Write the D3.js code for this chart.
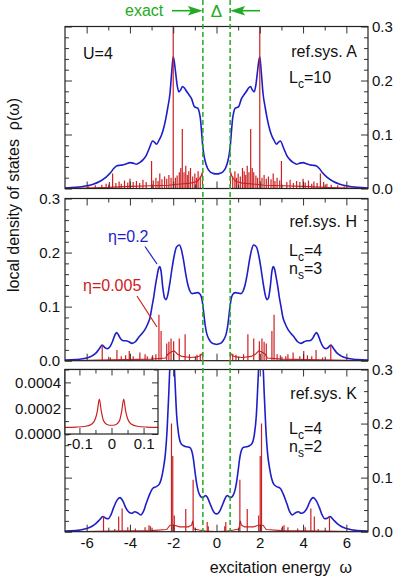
<!DOCTYPE html>
<html>
<head>
<meta charset="utf-8">
<script src="https://cdnjs.cloudflare.com/ajax/libs/d3/7.8.5/d3.min.js"></script>
<style>
  body { margin: 0; background: #fff; }
  text { font-family: "Liberation Sans", Arial, Helvetica, sans-serif; }
</style>
</head>
<body>
<svg id="chart"></svg>
<script>
// ---- data ----
// blue curves: eta = 0.2, [omega, rho]
var blueA = [[-7,0.001],[-6.5,0.002],[-6,0.005],[-5.7,0.008],[-5.4,0.013],[-5.1,0.021],[-4.9,0.029],[-4.75,0.037],[-4.6,0.042],[-4.45,0.043],[-4.3,0.044],[-4.15,0.046],[-4.0,0.048],[-3.85,0.047],[-3.7,0.045],[-3.55,0.048],[-3.4,0.053],[-3.25,0.061],[-3.1,0.075],[-2.95,0.088],[-2.85,0.085],[-2.77,0.082],[-2.65,0.09],[-2.54,0.099],[-2.44,0.112],[-2.34,0.13],[-2.25,0.15],[-2.15,0.176],[-2.07,0.215],[-2.0,0.244],[-1.95,0.235],[-1.89,0.215],[-1.82,0.192],[-1.74,0.179],[-1.65,0.183],[-1.57,0.189],[-1.48,0.186],[-1.4,0.181],[-1.28,0.174],[-1.15,0.166],[-1.03,0.152],[-0.95,0.15],[-0.87,0.149],[-0.8,0.142],[-0.74,0.128],[-0.69,0.105],[-0.64,0.08],[-0.58,0.062],[-0.52,0.05],[-0.42,0.038],[-0.3,0.031],[-0.15,0.028],[0,0.027],
  [0.15,0.028],[0.3,0.031],[0.42,0.038],[0.52,0.05],[0.58,0.062],[0.64,0.08],[0.69,0.105],[0.74,0.128],[0.8,0.142],[0.87,0.149],[0.95,0.15],[1.03,0.152],[1.15,0.166],[1.28,0.174],[1.4,0.181],[1.48,0.186],[1.57,0.189],[1.65,0.183],[1.74,0.179],[1.82,0.192],[1.89,0.215],[1.95,0.235],[2.0,0.244],[2.07,0.215],[2.15,0.176],[2.25,0.15],[2.34,0.13],[2.44,0.112],[2.54,0.099],[2.65,0.09],[2.77,0.082],[2.85,0.085],[2.95,0.088],[3.1,0.075],[3.25,0.061],[3.4,0.053],[3.55,0.048],[3.7,0.045],[3.85,0.047],[4.0,0.048],[4.15,0.046],[4.3,0.044],[4.45,0.043],[4.6,0.042],[4.75,0.037],[4.9,0.029],[5.1,0.021],[5.4,0.013],[5.7,0.008],[6,0.005],[6.5,0.002],[7,0.001]];

var blueH = [[-7,0.001],[-6.5,0.002],[-6,0.005],[-5.75,0.009],[-5.55,0.015],[-5.4,0.023],[-5.28,0.029],[-5.15,0.024],[-5.05,0.022],[-4.92,0.026],[-4.8,0.036],[-4.7,0.047],[-4.62,0.052],[-4.52,0.047],[-4.42,0.04],[-4.3,0.037],[-4.18,0.037],[-4.05,0.035],[-3.9,0.032],[-3.75,0.035],[-3.6,0.043],[-3.45,0.05],[-3.3,0.058],[-3.18,0.068],[-3.07,0.08],[-2.98,0.1],[-2.9,0.118],[-2.82,0.14],[-2.74,0.158],[-2.68,0.17],[-2.62,0.174],[-2.56,0.165],[-2.48,0.135],[-2.4,0.116],[-2.33,0.113],[-2.25,0.122],[-2.15,0.145],[-2.05,0.172],[-1.95,0.195],[-1.85,0.21],[-1.72,0.214],[-1.62,0.205],[-1.52,0.185],[-1.42,0.16],[-1.32,0.14],[-1.22,0.128],[-1.12,0.124],[-1.0,0.125],[-0.88,0.126],[-0.78,0.124],[-0.7,0.118],[-0.64,0.105],[-0.58,0.085],[-0.52,0.065],[-0.45,0.05],[-0.35,0.04],[-0.22,0.033],[-0.1,0.031],[0,0.03],
  [0.1,0.031],[0.22,0.033],[0.35,0.04],[0.45,0.05],[0.52,0.065],[0.58,0.085],[0.64,0.105],[0.7,0.118],[0.78,0.124],[0.88,0.126],[1.0,0.125],[1.12,0.124],[1.22,0.128],[1.32,0.14],[1.42,0.16],[1.52,0.185],[1.62,0.205],[1.72,0.214],[1.85,0.21],[1.95,0.195],[2.05,0.172],[2.15,0.145],[2.25,0.122],[2.33,0.113],[2.4,0.116],[2.48,0.135],[2.56,0.165],[2.62,0.174],[2.68,0.17],[2.74,0.158],[2.82,0.14],[2.9,0.118],[2.98,0.1],[3.07,0.08],[3.18,0.068],[3.3,0.058],[3.45,0.05],[3.6,0.043],[3.75,0.035],[3.9,0.032],[4.05,0.035],[4.18,0.037],[4.3,0.037],[4.42,0.04],[4.52,0.047],[4.62,0.052],[4.7,0.047],[4.8,0.036],[4.92,0.026],[5.05,0.022],[5.15,0.024],[5.28,0.029],[5.4,0.023],[5.55,0.015],[5.75,0.009],[6,0.005],[6.5,0.002],[7,0.001]];

var blueK = [[-7,0.001],[-6.5,0.002],[-6,0.006],[-5.75,0.01],[-5.55,0.016],[-5.4,0.022],[-5.25,0.028],[-5.12,0.025],[-5.0,0.024],[-4.88,0.031],[-4.75,0.045],[-4.6,0.058],[-4.46,0.063],[-4.33,0.057],[-4.2,0.045],[-4.05,0.036],[-3.92,0.034],[-3.78,0.037],[-3.65,0.035],[-3.5,0.031],[-3.38,0.037],[-3.25,0.052],[-3.1,0.068],[-2.95,0.08],[-2.8,0.083],[-2.66,0.087],[-2.55,0.098],[-2.45,0.118],[-2.36,0.145],[-2.28,0.19],[-2.2,0.26],[-2.13,0.33],[-2.06,0.37],[-1.99,0.34],[-1.92,0.28],[-1.84,0.215],[-1.75,0.18],[-1.65,0.164],[-1.52,0.159],[-1.38,0.157],[-1.25,0.156],[-1.15,0.15],[-1.07,0.135],[-1.0,0.113],[-0.92,0.09],[-0.85,0.076],[-0.75,0.066],[-0.65,0.063],[-0.57,0.065],[-0.5,0.067],[-0.43,0.064],[-0.35,0.057],[-0.25,0.047],[-0.15,0.038],[-0.07,0.034],[0,0.033],
  [0.07,0.034],[0.15,0.038],[0.25,0.047],[0.35,0.057],[0.43,0.064],[0.5,0.067],[0.57,0.065],[0.65,0.063],[0.75,0.066],[0.85,0.076],[0.92,0.09],[1.0,0.113],[1.07,0.135],[1.15,0.15],[1.25,0.156],[1.38,0.157],[1.52,0.159],[1.65,0.164],[1.75,0.18],[1.84,0.215],[1.92,0.28],[1.99,0.34],[2.06,0.37],[2.13,0.33],[2.2,0.26],[2.28,0.19],[2.36,0.145],[2.45,0.118],[2.55,0.098],[2.66,0.087],[2.8,0.083],[2.95,0.08],[3.1,0.068],[3.25,0.052],[3.38,0.037],[3.5,0.031],[3.65,0.035],[3.78,0.037],[3.92,0.034],[4.05,0.036],[4.2,0.045],[4.33,0.057],[4.46,0.063],[4.6,0.058],[4.75,0.045],[4.88,0.031],[5.0,0.024],[5.12,0.025],[5.25,0.028],[5.4,0.022],[5.55,0.016],[5.75,0.01],[6,0.006],[6.5,0.002],[7,0.001]];

// red curves: eta = 0.005, smooth background part [omega, rho]
var baseA = [[-7,0],[-6,0.001],[-5,0.002],[-4,0.004],[-3,0.005],[-2.2,0.006],[-1.8,0.008],[-1.2,0.01],[-0.9,0.013],[-0.78,0.018],[-0.7,0.024],[-0.66,0.03],[-0.64,0],[0.64,0],[0.66,0.03],[0.7,0.024],[0.78,0.018],[0.9,0.013],[1.2,0.01],[1.8,0.008],[2.2,0.006],[3,0.005],[4,0.004],[5,0.002],[6,0.001],[7,0]];
var baseH = [[-7,0],[-5.5,0.001],[-3,0.003],[-2.35,0.005],[-2.25,0.012],[-2.1,0.016],[-1.95,0.018],[-1.8,0.012],[-1.6,0.008],[-1.2,0.006],[-0.9,0.007],[-0.75,0.009],[-0.67,0.012],[-0.64,0.016],[-0.63,0],[0.63,0],[0.64,0.016],[0.67,0.012],[0.75,0.009],[0.9,0.007],[1.2,0.006],[1.6,0.008],[1.8,0.012],[1.95,0.018],[2.1,0.016],[2.25,0.012],[2.35,0.005],[3,0.003],[5.5,0.001],[7,0]];
var baseK = [[-7,0],[-5,0.001],[-3,0.002],[-2.3,0.004],[-2.15,0.012],[-1.95,0.012],[-1.7,0.009],[-1.3,0.009],[-1.15,0.012],[-1.1,0.02],[-1.04,0.005],[-0.8,0.003],[-0.5,0.001],[0,0.0005],[0.5,0.001],[0.8,0.003],[1.04,0.005],[1.1,0.02],[1.15,0.012],[1.3,0.009],[1.7,0.009],[1.95,0.012],[2.15,0.012],[2.3,0.004],[3,0.002],[5,0.001],[7,0]];

// red curves: sharp peaks [omega, height]
var spikesA = [[-5.9,0.004],[-5.6,0.006],[-5.3,0.007],[-5.1,0.009],[-4.95,0.012],[-4.8,0.028],[-4.65,0.01],[-4.5,0.013],[-4.4,0.009],[-4.25,0.015],[-4.1,0.011],[-4.0,0.018],[-3.85,0.012],[-3.7,0.014],[-3.55,0.01],[-3.4,0.016],[-3.25,0.012],[-3.0,0.051],[-2.92,0.015],[-2.8,0.02],[-2.7,0.014],[-2.62,0.028],[-2.52,0.017],[-2.4,0.022],[-2.3,0.018],[-2.2,0.025],[-2.1,0.02],[-2.0,0.35],[-1.9,0.02],[-1.82,0.024],[-1.72,0.03],[-1.65,0.038],[-1.58,0.11],[-1.5,0.03],[-1.42,0.042],[-1.35,0.025],[-1.28,0.032],[-1.2,0.038],[-1.1,0.022],[-1.0,0.028],[-0.92,0.02],[-0.85,0.032],[-0.75,0.022],
  [0.75,0.022],[0.85,0.032],[0.92,0.02],[1.0,0.028],[1.1,0.022],[1.2,0.038],[1.28,0.032],[1.35,0.025],[1.42,0.042],[1.5,0.03],[1.58,0.11],[1.65,0.038],[1.72,0.03],[1.82,0.024],[1.9,0.02],[2.0,0.35],[2.1,0.02],[2.2,0.025],[2.3,0.018],[2.4,0.022],[2.52,0.017],[2.62,0.028],[2.7,0.014],[2.8,0.02],[2.92,0.015],[3.0,0.051],[3.25,0.012],[3.4,0.016],[3.55,0.01],[3.7,0.014],[3.85,0.012],[4.0,0.018],[4.1,0.011],[4.25,0.015],[4.4,0.009],[4.5,0.013],[4.65,0.01],[4.8,0.028],[4.95,0.012],[5.1,0.009],[5.3,0.007],[5.6,0.006],[5.9,0.004]];
var spikesH = [[-5.28,0.029],[-4.9,0.006],[-4.6,0.02],[-4.4,0.008],[-4.2,0.01],[-4.03,0.018],[-3.85,0.008],[-3.54,0.015],[-3.3,0.012],[-3.2,0.008],[-2.95,0.01],[-2.8,0.012],[-2.66,0.085],[-2.56,0.055],[-2.3,0.032],[-2.2,0.035],[-2.1,0.041],[-1.98,0.036],[-1.72,0.041],[-1.45,0.049],[-1.25,0.012],[-0.9,0.011],[-0.75,0.013],
  [0.75,0.013],[0.9,0.011],[1.25,0.012],[1.45,0.049],[1.72,0.041],[1.98,0.036],[2.1,0.041],[2.2,0.035],[2.3,0.032],[2.56,0.055],[2.66,0.085],[2.8,0.012],[2.95,0.01],[3.2,0.008],[3.3,0.012],[3.54,0.015],[3.85,0.008],[4.03,0.018],[4.2,0.01],[4.4,0.008],[4.6,0.02],[4.9,0.006],[5.28,0.029]];
var spikesK = [[-5.22,0.028],[-4.7,0.005],[-4.52,0.028],[-4.36,0.043],[-4.1,0.008],[-3.75,0.006],[-3.3,0.008],[-3.12,0.012],[-3.05,0.01],[-2.08,0.2],[-2.02,0.14],[-1.95,0.03],[-1.42,0.042],[-1.08,0.096],[-0.43,0.018],[-0.38,0.01],
  [0.38,0.01],[0.43,0.018],[1.08,0.096],[1.42,0.042],[1.95,0.03],[2.02,0.14],[2.08,0.2],[3.05,0.01],[3.12,0.012],[3.3,0.008],[3.75,0.006],[4.1,0.008],[4.36,0.043],[4.52,0.028],[4.7,0.005],[5.22,0.028]];

// inset (ref.sys. K, eta = 0.005 around omega = 0)
var insetK = [[-0.145,0.000052],[-0.11,0.000054],[-0.08,0.00006],[-0.06,0.00008],[-0.05,0.00012],[-0.044,0.00018],[-0.038,0.00027],[-0.032,0.00018],[-0.026,0.00011],[-0.018,0.00008],[-0.01,0.00007],[0,0.000068],[0.01,0.00007],[0.018,0.00008],[0.026,0.00011],[0.032,0.00018],[0.038,0.00027],[0.044,0.00018],[0.05,0.00012],[0.06,0.00008],[0.08,0.00006],[0.11,0.000054],[0.145,0.000052]];

// ticks
var xMajor = [-6, -4, -2, 0, 2, 4, 6];
var xMinor = [-5, -3, -1, 1, 3, 5];
var yMajor = [0, 0.1, 0.2, 0.3];
var yMinor = [0.02, 0.04, 0.06, 0.08, 0.12, 0.14, 0.16, 0.18, 0.22, 0.24, 0.26, 0.28];
var insetXMajor = [-0.1, 0, 0.1];
var insetXMinor = [-0.05, 0.05];
var insetYMajor = [0, 0.0002, 0.0004];
var insetYMinor = [0.0001, 0.0003, 0.0005];
var gapEdges = [-0.63, 0.63];

// ---- drawing ----
var svgWidth = 395, svgHeight = 578;
var blue = "#1e1ec8", red = "#cc2020", green = "#22aa22";

var svg = d3.select("#chart").attr("width", svgWidth).attr("height", svgHeight);
var x = d3.scaleLinear().domain([-7, 7]).range([65, 368]);

var panels = [
  {top: 26.5, bottom: 188.5, blue: blueA, base: baseA, spikes: spikesA, left: false, right: true, xlab: false},
  {top: 198.5, bottom: 360.7, blue: blueH, base: baseH, spikes: spikesH, left: true, right: false, xlab: false},
  {top: 369.5, bottom: 531.7, blue: blueK, base: baseK, spikes: spikesK, left: false, right: true, xlab: true}
];

function noLabel() { return ""; }

function addAxis(g, axis, tx, ty) {
  var a = g.append("g")
    .attr("transform", "translate(" + tx + "," + ty + ")")
    .call(axis);
  a.select(".domain").remove();
  a.selectAll("line").attr("stroke", "#333").attr("stroke-width", 1);
  a.attr("font-size", 15).attr("font-family", '"Liberation Sans", Arial, sans-serif');
  a.selectAll("text").attr("fill", "#111");
  return a;
}

panels.forEach(function(p, i) {
  var y = d3.scaleLinear().domain([0, 0.3]).range([p.bottom, p.top]);
  var g = svg.append("g");

  svg.append("clipPath").attr("id", "clip" + i)
    .append("rect").attr("x", x(-7)).attr("y", p.top)
    .attr("width", x(7) - x(-7)).attr("height", p.bottom - p.top);

  var plot = g.append("g").attr("clip-path", "url(#clip" + i + ")");

  var smooth = d3.line().x(function(d) { return x(d[0]); }).y(function(d) { return y(d[1]); })
    .curve(d3.curveMonotoneX);
  var straight = d3.line().x(function(d) { return x(d[0]); }).y(function(d) { return y(d[1]); });

  plot.append("path").datum(p.blue).attr("d", smooth)
    .attr("fill", "none").attr("stroke", blue).attr("stroke-width", 1.6);

  plot.append("path").datum(p.base).attr("d", straight)
    .attr("fill", "none").attr("stroke", red).attr("stroke-width", 1.1);

  plot.selectAll(".spike").data(p.spikes).enter().append("line")
    .attr("class", "spike")
    .attr("x1", function(d) { return x(d[0]); })
    .attr("x2", function(d) { return x(d[0]); })
    .attr("y1", y(0))
    .attr("y2", function(d) { return y(d[1]); })
    .attr("stroke", red).attr("stroke-width", 1.2);

  // ticks on all four sides, pointing inside
  addAxis(g, d3.axisBottom(x).tickValues(xMajor).tickSize(-7).tickPadding(6)
    .tickFormat(p.xlab ? function(d) { return String(d); } : noLabel), 0, p.bottom);
  addAxis(g, d3.axisBottom(x).tickValues(xMinor).tickSize(-4).tickFormat(noLabel), 0, p.bottom);
  addAxis(g, d3.axisTop(x).tickValues(xMajor).tickSize(-7).tickFormat(noLabel), 0, p.top);
  addAxis(g, d3.axisTop(x).tickValues(xMinor).tickSize(-4).tickFormat(noLabel), 0, p.top);

  addAxis(g, d3.axisLeft(y).tickValues(yMajor).tickSize(-7).tickPadding(5)
    .tickFormat(p.left ? d3.format(".1f") : noLabel), x(-7), 0);
  addAxis(g, d3.axisLeft(y).tickValues(yMinor).tickSize(-4).tickFormat(noLabel), x(-7), 0);
  addAxis(g, d3.axisRight(y).tickValues(yMajor).tickSize(-7).tickPadding(4)
    .tickFormat(p.right ? d3.format(".1f") : noLabel), x(7), 0);
  addAxis(g, d3.axisRight(y).tickValues(yMinor).tickSize(-4).tickFormat(noLabel), x(7), 0);

  g.append("rect")
    .attr("x", x(-7)).attr("y", p.top)
    .attr("width", x(7) - x(-7)).attr("height", p.bottom - p.top)
    .attr("fill", "none").attr("stroke", "#222").attr("stroke-width", 1.2);
});

// inset in the lowest panel
var xi = d3.scaleLinear().domain([-0.145, 0.145]).range([65, 158]);
var yi = d3.scaleLinear().domain([0, 0.0005]).range([434, 369.5]);
var inset = svg.append("g");
inset.append("rect").attr("x", 65).attr("y", 369.5).attr("width", 93).attr("height", 64.5)
  .attr("fill", "#fff");
inset.append("path").datum(insetK)
  .attr("d", d3.line().x(function(d) { return xi(d[0]); }).y(function(d) { return yi(d[1]); }).curve(d3.curveMonotoneX))
  .attr("fill", "none").attr("stroke", red).attr("stroke-width", 1.2);
addAxis(inset, d3.axisBottom(xi).tickValues(insetXMajor).tickSize(-6).tickPadding(4)
  .tickFormat(function(d) { return d === 0 ? "0" : d.toFixed(1); }), 0, 434);
addAxis(inset, d3.axisBottom(xi).tickValues(insetXMinor).tickSize(-4).tickFormat(noLabel), 0, 434);
addAxis(inset, d3.axisTop(xi).tickValues(insetXMajor).tickSize(-6).tickFormat(noLabel), 0, 369.5);
addAxis(inset, d3.axisTop(xi).tickValues(insetXMinor).tickSize(-4).tickFormat(noLabel), 0, 369.5);
addAxis(inset, d3.axisLeft(yi).tickValues(insetYMajor).tickSize(-6).tickPadding(4)
  .tickFormat(d3.format(".4f")), 65, 0);
addAxis(inset, d3.axisLeft(yi).tickValues(insetYMinor).tickSize(-4).tickFormat(noLabel), 65, 0);
addAxis(inset, d3.axisRight(yi).tickValues(insetYMajor).tickSize(-6).tickFormat(noLabel), 158, 0);
addAxis(inset, d3.axisRight(yi).tickValues(insetYMinor).tickSize(-4).tickFormat(noLabel), 158, 0);
inset.append("rect").attr("x", 65).attr("y", 369.5).attr("width", 93).attr("height", 64.5)
  .attr("fill", "none").attr("stroke", "#222").attr("stroke-width", 1.2);

// green dashed gap edges and header
svg.selectAll(".gap").data(gapEdges).enter().append("line")
  .attr("x1", function(d) { return x(d); }).attr("x2", function(d) { return x(d); })
  .attr("y1", 0).attr("y2", panels[2].bottom)
  .attr("stroke", green).attr("stroke-width", 1.5).attr("stroke-dasharray", "5,3");

var arrowY = 10.7;
svg.append("line").attr("x1", 172).attr("x2", x(gapEdges[0]) - 10).attr("y1", arrowY).attr("y2", arrowY)
  .attr("stroke", green).attr("stroke-width", 1.6);
svg.append("path")
  .attr("d", "M" + x(gapEdges[0]) + "," + arrowY + " l-15,-4.8 l3,4.8 l-3,4.8 Z")
  .attr("fill", green);
svg.append("line").attr("x1", 260).attr("x2", x(gapEdges[1]) + 10).attr("y1", arrowY).attr("y2", arrowY)
  .attr("stroke", green).attr("stroke-width", 1.6);
svg.append("path")
  .attr("d", "M" + x(gapEdges[1]) + "," + arrowY + " l15,-4.8 l-3,4.8 l3,4.8 Z")
  .attr("fill", green);
svg.append("text").attr("x", 125).attr("y", 16).attr("font-size", 16).attr("fill", green).text("exact");
svg.append("text").attr("x", x(0)).attr("y", 17).attr("text-anchor", "middle").attr("font-size", 17)
  .attr("fill", green).text("Δ");

// panel annotations
function label(xp, yp, main, sub, rest, anchor) {
  var t = svg.append("text").attr("x", xp).attr("y", yp).attr("font-size", 16).attr("fill", "#111");
  if (anchor) t.attr("text-anchor", anchor);
  t.append("tspan").text(main);
  if (sub) {
    t.append("tspan").attr("font-size", 12).attr("dy", 5).text(sub);
    t.append("tspan").attr("dy", -5).text(rest);
  }
  return t;
}
label(83, 59, "U=4");
label(357, 57, "ref.sys. A", null, null, "end");
label(289, 83, "L", "c", "=10");
label(357, 227, "ref.sys. H", null, null, "end");
label(289, 256, "L", "c", "=4");
label(289, 274, "n", "s", "=3");
label(357, 399, "ref.sys. K", null, null, "end");
label(289, 434, "L", "c", "=4");
label(289, 452, "n", "s", "=2");

svg.append("text").attr("x", 108).attr("y", 242).attr("font-size", 16).attr("fill", blue).text("η=0.2");
svg.append("line").attr("x1", 145).attr("y1", 246.5).attr("x2", 157).attr("y2", 264)
  .attr("stroke", blue).attr("stroke-width", 1.2);
svg.append("text").attr("x", 83).attr("y", 291).attr("font-size", 16).attr("fill", red).text("η=0.005");
svg.append("line").attr("x1", 137).attr("y1", 296).attr("x2", 157).attr("y2", 327)
  .attr("stroke", red).attr("stroke-width", 1.2);

// axis titles
svg.append("text").attr("x", 352).attr("y", 573).attr("text-anchor", "end").attr("font-size", 16)
  .attr("fill", "#111").text("excitation energy  ω").attr("xml:space", "preserve");
svg.append("text").attr("transform", "translate(18.5,195) rotate(-90)").attr("text-anchor", "middle")
  .attr("font-size", 16).attr("fill", "#111").attr("xml:space", "preserve")
  .text("local density of states  ρ(ω)");
</script>
</body>
</html>
